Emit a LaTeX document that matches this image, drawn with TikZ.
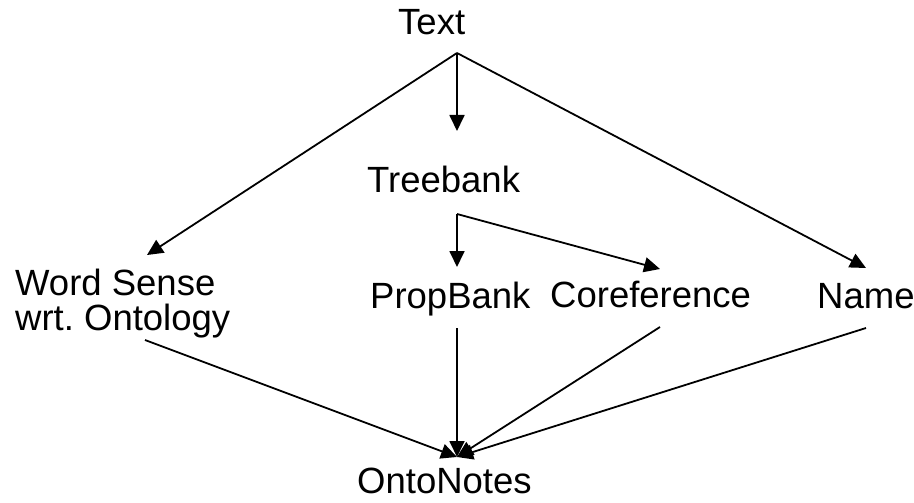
\documentclass[tikz,border=0pt]{standalone}
\usepackage{fontspec}
\setmainfont{Liberation Sans}
\usetikzlibrary{arrows.meta}
\frenchspacing
\tikzset{
	lbl/.style={anchor=base west, inner sep=0pt, font=\fontsize{36.5}{35}\selectfont},
	link/.style={line width=1.8pt, -{Triangle[length=16pt, width=15pt]}},
}
\begin{document}
\begin{tikzpicture}[x=1pt, y=-1pt]
		\useasboundingbox (0,0) rectangle (914,503);
		\node[lbl] (text) at (398,35) {Text};
		\node[lbl] (treebank) at (367,192) {Treebank};
		\node[lbl, align=left] (wordsense) at (15,330) {Word Sense\\wrt. Ontology};
		\node[lbl] (propbank) at (370,308) {PropBank};
		\node[lbl] (coref) at (550,307) {Coreference};
		\node[lbl] (name) at (817,308) {Name};
		\node[lbl] (onto) at (357,493) {OntoNotes};
		\coordinate (text-out) at (457,53);
		\coordinate (treebank-in) at (457,131);
		\coordinate (treebank-out) at (457,214);
		\coordinate (wordsense-in) at (147,255);
		\coordinate (wordsense-out) at (145,340);
		\coordinate (propbank-in) at (457,267);
		\coordinate (propbank-out) at (457,328);
		\coordinate (coref-in) at (660,269);
		\coordinate (coref-out) at (660,327);
		\coordinate (name-in) at (866,268);
		\coordinate (name-out) at (866,328);
		\coordinate (onto-in) at (457,457);
		\foreach \a/\b in {text-out/treebank-in, text-out/wordsense-in, text-out/name-in,
			treebank-out/propbank-in, treebank-out/coref-in,
			wordsense-out/onto-in, propbank-out/onto-in, coref-out/onto-in, name-out/onto-in}
			\draw[link] (\a) -- (\b);
	\end{tikzpicture}
\end{document}
